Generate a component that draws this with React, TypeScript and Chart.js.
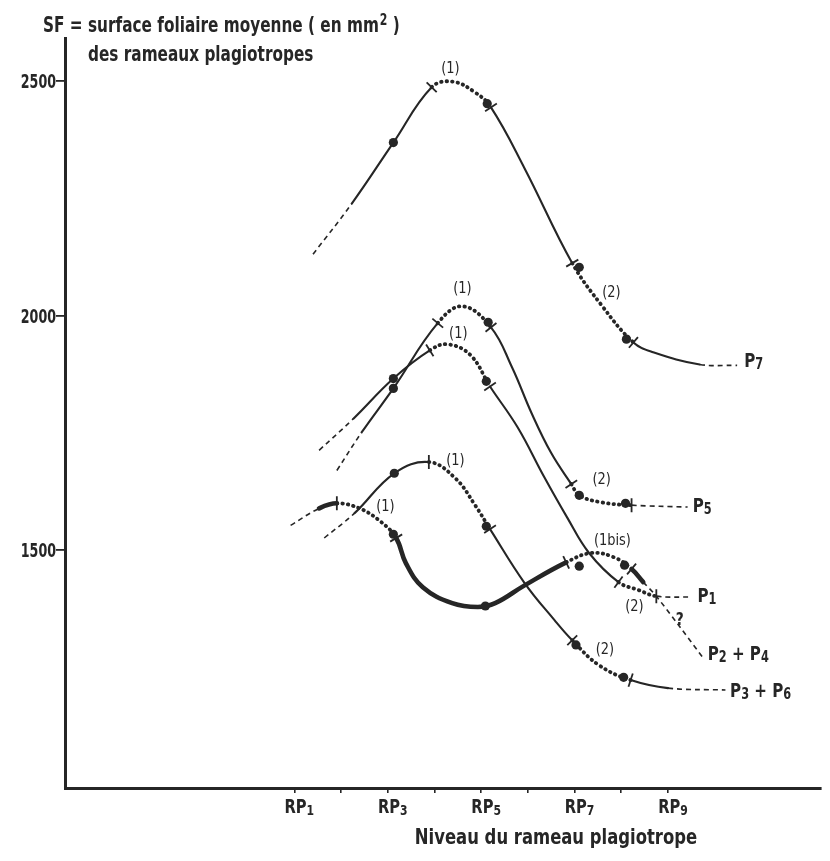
import React, { useEffect, useRef } from 'react';
import { Chart, registerables } from 'chart.js';

Chart.register(...registerables);

// ---------------- axis data ----------------
const levels = [1, 2, 3, 4, 5, 6, 7, 8, 9];
const levelLabels = ['RP1', '', 'RP3', '', 'RP5', '', 'RP7', '', 'RP9'];
const sfTicks = [1500, 2000, 2500];

// segment kinds: e = extrapolated (dashed), o = observed (solid), t = transition (dotted)

// ---------------- P7 ----------------
const p7Level = [1.40, 2.23, 3.12, 3.94, 4.39, 4.87, 5.21, 5.93, 6.95, 7.58, 8.26, 8.68, 9.68, 10.48];
const p7SF = [2131, 2239, 2369, 2487, 2499, 2476, 2444, 2314, 2112, 2022, 1943, 1922, 1896, 1894];
const p7Kind = ['e', 'o', 'o', 't', 't', 't', 'o', 'o', 't', 't', 'o', 'o', 'e'];
const p7DotLevel = [3.12, 5.13, 7.10, 8.11];
const p7DotSF = [2369, 2452, 2103, 1950];
const p7MarkLevel = [3.94, 5.21, 6.95, 8.26];
const p7MarkSF = [2487, 2444, 2112, 1943];
const p7MarkAngle = [44, -33, -30, -50];

// ---------------- P5 ----------------
const p5Level = [1.91, 2.44, 3.12, 4.07, 4.60, 5.21, 5.66, 6.08, 6.50, 6.93, 7.10, 7.58, 8.22, 9.42];
const p5SF = [1670, 1751, 1845, 1984, 2020, 1975, 1890, 1792, 1707, 1641, 1617, 1602, 1596, 1592];
const p5Kind = ['e', 'o', 'o', 't', 't', 'o', 'o', 'o', 'o', 't', 't', 't', 'e'];
const p5DotLevel = [3.12, 5.15, 7.10, 8.09];
const p5DotSF = [1845, 1986, 1617, 1600];
const p5MarkLevel = [4.07, 5.21, 6.93, 8.22];
const p5MarkSF = [1984, 1975, 1641, 1596];
const p5MarkAngle = [40, -39, -34, 90];

// ---------------- P1 ----------------
const p1Level = [1.53, 2.27, 3.12, 3.90, 4.28, 4.77, 5.19, 5.78, 6.35, 6.84, 7.31, 7.94, 8.37, 8.75, 9.49];
const p1SF = [1713, 1781, 1866, 1926, 1939, 1916, 1849, 1762, 1656, 1570, 1494, 1432, 1415, 1402, 1400];
const p1Kind = ['e', 'o', 'o', 't', 't', 't', 'o', 'o', 'o', 'o', 'o', 't', 't', 'e'];
const p1DotLevel = [3.12, 5.11];
const p1DotSF = [1866, 1860];
const p1MarkLevel = [3.90, 5.19, 7.94, 8.75];
const p1MarkSF = [1926, 1849, 1432, 1402];
const p1MarkAngle = [58, -34, -54, 90];

// ---------------- P2 + P4 ----------------
const p24Level = [0.92, 1.53, 1.91, 2.40, 2.86, 3.18, 3.39, 3.75, 4.38, 4.93, 5.30, 5.93, 6.82, 7.35, 7.84, 8.22, 8.47, 8.75, 9.74];
const p24SF = [1553, 1589, 1600, 1589, 1560, 1526, 1472, 1421, 1387, 1379, 1387, 1425, 1474, 1494, 1485, 1460, 1432, 1402, 1272];
const p24Kind = ['e', 'o', 't', 't', 't', 'o', 'o', 'o', 'o', 'o', 'o', 'o', 't', 't', 't', 'o', 'e', 'e'];
const p24DotLevel = [3.12, 5.09, 7.10, 8.07];
const p24DotSF = [1534, 1381, 1466, 1468];
const p24MarkLevel = [1.91, 3.18, 6.82, 8.22];
const p24MarkSF = [1600, 1526, 1474, 1460];
const p24MarkAngle = [90, -31, 65, -50];

// ---------------- P3 + P6 ----------------
const p36Level = [1.64, 2.29, 3.14, 3.88, 4.45, 4.87, 5.19, 5.93, 6.57, 6.95, 7.52, 8.20, 9.00, 10.23];
const p36SF = [1526, 1579, 1664, 1688, 1653, 1596, 1545, 1430, 1351, 1308, 1255, 1223, 1206, 1202];
const p36Kind = ['e', 'o', 'o', 't', 't', 't', 'o', 'o', 'o', 't', 't', 'o', 'e'];
const p36DotLevel = [3.14, 5.11, 7.03, 8.05];
const p36DotSF = [1664, 1551, 1298, 1229];
const p36MarkLevel = [3.88, 5.19, 6.95, 8.20];
const p36MarkSF = [1688, 1545, 1308, 1223];
const p36MarkAngle = [90, -33, -45, -72];

// ---------------- annotations ----------------
const noteTexts = ['(1)', '(2)', '(1)', '(1)', '(2)', '(1)', '(1)', '(1bis)', '(2)', '?', '(2)'];
const noteLevel = [4.34, 7.79, 4.60, 4.51, 7.58, 4.45, 2.95, 7.81, 8.28, 9.25, 7.65];
const noteSF = [2527, 2048, 2058, 1962, 1649, 1690, 1592, 1521, 1379, 1351, 1287];

const curveNames = ['P7', 'P5', 'P1', 'P2 + P4', 'P3 + P6'];
const nameLevel = [10.63, 9.53, 9.63, 9.85, 10.33];
const nameSF = [1905, 1596, 1404, 1281, 1202];

const yTitle1 = 'SF = surface foliaire moyenne ( en mm';
const yTitleSup = '2';
const yTitle1End = ' )';
const yTitle2 = 'des rameaux plagiotropes';
const xTitle = 'Niveau du rameau plagiotrope';

// ---------------- styling ----------------
const INK = '#262626';
const FONT = "'Liberation Sans Narrow', 'Arial Narrow', 'DejaVu Sans Condensed', 'Roboto Condensed', 'Liberation Sans', sans-serif";

const KIND_STYLE: Record<string, { dash: number[]; width: number; cap: CanvasLineCap }> = {
  e: { dash: [5, 4], width: 1.6, cap: 'butt' },
  o: { dash: [], width: 2.1, cap: 'round' },
  t: { dash: [0.5, 5], width: 3.8, cap: 'round' },
};

function pts(xs: number[], ys: number[]) {
  return xs.map((x, i) => ({ x, y: ys[i] }));
}

function curveDataset(xs: number[], ys: number[], kinds: string[], thick: boolean) {
  const solidW = thick ? 4.6 : KIND_STYLE.o.width;
  const k = (c: any) => kinds[c.p0DataIndex] || 'o';
  return {
    type: 'line' as const,
    data: pts(xs, ys),
    borderColor: INK,
    borderWidth: solidW,
    pointRadius: 0,
    tension: 0.4,
    fill: false,
    order: 2,
    segment: {
      borderDash: (c: any) => KIND_STYLE[k(c)].dash,
      borderWidth: (c: any) => (k(c) === 'o' ? solidW : KIND_STYLE[k(c)].width),
      borderCapStyle: (c: any) => KIND_STYLE[k(c)].cap,
    },
  };
}

function dotDataset(xs: number[], ys: number[]) {
  return {
    type: 'scatter' as const,
    data: pts(xs, ys),
    pointRadius: 4.6,
    pointBackgroundColor: INK,
    pointBorderWidth: 0,
    showLine: false,
    order: 0,
  };
}

function markDataset(xs: number[], ys: number[], angles: number[]) {
  return {
    type: 'scatter' as const,
    data: pts(xs, ys),
    pointStyle: 'line' as const,
    pointRadius: 7,
    pointBorderWidth: 1.8,
    pointBorderColor: INK,
    pointRotation: angles,
    showLine: false,
    order: 1,
  };
}

// draw text squeezed horizontally (the original uses a condensed typeface)
function drawText(
  ctx: CanvasRenderingContext2D,
  text: string,
  x: number,
  y: number,
  font: string,
  sx: number,
  align: CanvasTextAlign,
  baseline: CanvasTextBaseline
) {
  ctx.save();
  ctx.font = font;
  ctx.textAlign = align;
  ctx.textBaseline = baseline;
  ctx.translate(x, y);
  ctx.scale(sx, 1);
  ctx.fillText(text, 0, 0);
  ctx.restore();
}

function drawSub(ctx: CanvasRenderingContext2D, text: string, x: number, baseline: number, size: number, sx: number, align: 'left' | 'center') {
  const parts = text.split(/(\d)/).filter((p) => p.length > 0);
  const big = `bold ${size}px ${FONT}`;
  const small = `bold ${Math.round(size * 0.76)}px ${FONT}`;
  const widths = parts.map((p) => {
    ctx.font = /\d/.test(p) ? small : big;
    return ctx.measureText(p).width * sx;
  });
  const total = widths.reduce((a, b) => a + b, 0);
  let cx = align === 'center' ? x - total / 2 : x;
  parts.forEach((p, i) => {
    const isDigit = /\d/.test(p);
    drawText(ctx, p, cx, isDigit ? baseline + size * 0.1 : baseline, isDigit ? small : big, sx, 'left', 'alphabetic');
    cx += widths[i];
  });
}

const textPlugin = {
  id: 'sfTexts',
  afterDraw(chart: any) {
    const { ctx } = chart;
    const xs = chart.scales.x;
    const ys = chart.scales.y;
    ctx.save();
    ctx.fillStyle = INK;

    // y tick labels
    sfTicks.forEach((v) => {
      drawText(ctx, String(v), ys.right - 9, ys.getPixelForValue(v) + 7, `bold 19px ${FONT}`, 0.74, 'right', 'alphabetic');
    });

    // x tick labels
    levels.forEach((lv, i) => {
      const t = levelLabels[i];
      if (!t) return;
      drawSub(ctx, t, xs.getPixelForValue(lv) + 5, xs.top + 25, 19, 0.86, 'center');
    });

    // axis titles
    const tf = `bold 21px ${FONT}`;
    const sx = 0.81;
    ctx.font = tf;
    let tx = 43;
    drawText(ctx, yTitle1, tx, 32, tf, sx, 'left', 'alphabetic');
    tx += ctx.measureText(yTitle1).width * sx;
    drawText(ctx, yTitleSup, tx + 1, 25, `bold 15px ${FONT}`, sx, 'left', 'alphabetic');
    ctx.font = `bold 15px ${FONT}`;
    tx += ctx.measureText(yTitleSup).width * sx + 1;
    drawText(ctx, yTitle1End, tx, 32, tf, sx, 'left', 'alphabetic');
    drawText(ctx, yTitle2, 88, 61, tf, sx, 'left', 'alphabetic');
    drawText(ctx, xTitle, 556, 844, tf, 0.87, 'center', 'alphabetic');

    // annotations
    noteTexts.forEach((t, i) => {
      const f = t === '?' ? `bold 17px ${FONT}` : `16px ${FONT}`;
      drawText(ctx, t, xs.getPixelForValue(noteLevel[i]), ys.getPixelForValue(noteSF[i]), f, 0.9, 'center', 'middle');
    });

    // curve names
    curveNames.forEach((t, i) => {
      drawSub(ctx, t, xs.getPixelForValue(nameLevel[i]), ys.getPixelForValue(nameSF[i]) + 7, 20, 0.84, 'left');
    });
    ctx.restore();
  },
};

export default function App() {
  const ref = useRef<HTMLCanvasElement | null>(null);

  useEffect(() => {
    const canvas = ref.current;
    if (!canvas) return;
    Chart.defaults.font.family = FONT;
    const chart = new Chart(canvas, {
      type: 'line',
      data: {
        datasets: [
          curveDataset(p7Level, p7SF, p7Kind, false),
          curveDataset(p5Level, p5SF, p5Kind, false),
          curveDataset(p1Level, p1SF, p1Kind, false),
          curveDataset(p24Level, p24SF, p24Kind, true),
          curveDataset(p36Level, p36SF, p36Kind, false),
          markDataset(p7MarkLevel, p7MarkSF, p7MarkAngle),
          markDataset(p5MarkLevel, p5MarkSF, p5MarkAngle),
          markDataset(p1MarkLevel, p1MarkSF, p1MarkAngle),
          markDataset(p24MarkLevel, p24MarkSF, p24MarkAngle),
          markDataset(p36MarkLevel, p36MarkSF, p36MarkAngle),
          dotDataset(p7DotLevel, p7DotSF),
          dotDataset(p5DotLevel, p5DotSF),
          dotDataset(p1DotLevel, p1DotSF),
          dotDataset(p24DotLevel, p24DotSF),
          dotDataset(p36DotLevel, p36DotSF),
        ] as any,
      },
      options: {
        responsive: false,
        animation: false,
        events: [],
        layout: { padding: { top: 38, left: 0, right: 0, bottom: 0 } },
        plugins: {
          legend: { display: false },
          tooltip: { enabled: false },
          title: { display: false },
        },
        scales: {
          x: {
            type: 'linear',
            min: -3.91,
            max: 12.28,
            afterBuildTicks: (s: any) => {
              s.ticks = levels.map((v) => ({ value: v }));
            },
            afterFit: (s: any) => {
              s.height = 73;
            },
            ticks: { display: false },
            grid: { display: true, drawOnChartArea: false, drawTicks: true, tickLength: 5, color: INK, lineWidth: 1.6 },
            border: { display: true, color: INK, width: 3 },
          },
          y: {
            type: 'linear',
            min: 993,
            max: 2592,
            afterBuildTicks: (s: any) => {
              s.ticks = sfTicks.map((v) => ({ value: v }));
            },
            afterFit: (s: any) => {
              s.width = 65;
            },
            ticks: { display: false },
            grid: { display: true, drawOnChartArea: false, drawTicks: true, tickLength: 9, color: INK, lineWidth: 1.8 },
            border: { display: true, color: INK, width: 3 },
          },
        },
      } as any,
      plugins: [textPlugin],
    });
    return () => chart.destroy();
  }, []);

  return (
    <div style={{ position: 'absolute', left: 0, top: 0, width: 830, height: 861, background: '#fff' }}>
      <canvas ref={ref} width={830} height={861} style={{ display: 'block', width: 830, height: 861 }} />
    </div>
  );
}
